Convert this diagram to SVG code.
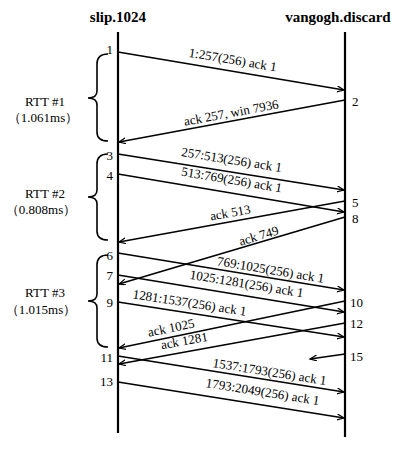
<svg xmlns="http://www.w3.org/2000/svg" width="418" height="449" viewBox="0 0 418 449" font-family="Liberation Serif, Times New Roman, serif">
<style>
text{font-family:"Liberation Serif","Times New Roman",serif;fill:#000}
.t{font-size:15px;font-weight:bold;text-anchor:middle}
.n{font-size:13px}
.l{font-size:13px;text-anchor:end}
.lab{font-size:13px;text-anchor:middle}
.rtt{font-size:13px;text-anchor:middle}
.life{stroke:#000;stroke-width:2.2;fill:none}
.msg{stroke:#000;stroke-width:1.6;fill:none;marker-end:url(#ah)}
.brace{stroke:#000;stroke-width:1.6;fill:none}
</style>
<defs>
<marker id="ah" markerUnits="userSpaceOnUse" markerWidth="10" markerHeight="10" refX="7" refY="3" orient="auto">
<path d="M0,0 L7,3 L0,6" fill="none" stroke="#000" stroke-width="1.2"/>
</marker>
</defs>
<rect width="418" height="449" fill="#fff"/>
<g id="slip">
<text class="t" x="118" y="22">slip.1024</text>
<line class="life" x1="118" y1="32" x2="118" y2="433"/>
</g>
<g id="vangogh">
<text class="t" x="338" y="22">vangogh.discard</text>
<line class="life" x1="345" y1="32" x2="345" y2="437"/>
</g>
<g id="rtt1">
<path class="brace" d="M108,54 Q97,54 97,64 L97,91 Q97,98 88,98 Q97,98 97,105 L97,132 Q97,141 108,141"/>
<text class="rtt" x="45" y="106">RTT #1</text>
<text class="rtt" x="43" y="122">（1.061ms）</text>
</g>
<g id="rtt2">
<path class="brace" d="M108,154 Q97,154 97,164 L97,190 Q97,197 88,197 Q97,197 97,204 L97,231 Q97,240 108,240"/>
<text class="rtt" x="45" y="198">RTT #2</text>
<text class="rtt" x="41" y="214">（0.808ms）</text>
</g>
<g id="rtt3">
<path class="brace" d="M108,255 Q97,255 97,265 L97,294 Q97,301 88,301 Q97,301 97,308 L97,338 Q97,347 108,347"/>
<text class="rtt" x="45" y="297">RTT #3</text>
<text class="rtt" x="41" y="314">（1.015ms）</text>
</g>
<g id="connectors">
<line class="msg" x1="118" y1="52" x2="344" y2="90"/>
<line class="msg" x1="345" y1="100" x2="119" y2="142"/>
<line class="msg" x1="118" y1="154" x2="344" y2="190"/>
<line class="msg" x1="118" y1="174" x2="344" y2="212"/>
<line class="msg" x1="345" y1="201" x2="119" y2="242"/>
<line class="msg" x1="345" y1="217" x2="119" y2="284"/>
<line class="msg" x1="118" y1="253" x2="344" y2="290"/>
<line class="msg" x1="118" y1="275" x2="344" y2="312"/>
<line class="msg" x1="118" y1="302" x2="344" y2="337"/>
<line class="msg" x1="345" y1="301" x2="119" y2="348"/>
<line class="msg" x1="345" y1="323" x2="119" y2="364"/>
<line class="msg" x1="345" y1="354" x2="310" y2="359"/>
<line class="msg" x1="118" y1="356" x2="344" y2="392"/>
<line class="msg" x1="118" y1="382" x2="344" y2="418"/>
</g>
<g id="labels">
<text class="lab" transform="translate(232,64) rotate(9.5)">1:257(256) ack 1</text>
<text class="lab" transform="translate(232,117) rotate(-10.5)">ack 257, win 7936</text>
<text class="lab" transform="translate(231,164) rotate(9)">257:513(256) ack 1</text>
<text class="lab" transform="translate(231,184) rotate(9.5)">513:769(256) ack 1</text>
<text class="lab" transform="translate(231,217) rotate(-10.2)">ack 513</text>
<text class="lab" transform="translate(260,240) rotate(-16.4)">ack 749</text>
<text class="lab" transform="translate(270,274) rotate(9.3)">769:1025(256) ack 1</text>
<text class="lab" transform="translate(246,288) rotate(9.3)">1025:1281(256) ack 1</text>
<text class="lab" transform="translate(189,307) rotate(8.8)">1281:1537(256) ack 1</text>
<text class="lab" transform="translate(172,332) rotate(-11.7)">ack 1025</text>
<text class="lab" transform="translate(185,345) rotate(-10.2)">ack 1281</text>
<text class="lab" transform="translate(269,376) rotate(9)">1537:1793(256) ack 1</text>
<text class="lab" transform="translate(262,396) rotate(9)">1793:2049(256) ack 1</text>
</g>
<g id="numbers">
<text class="l" x="113" y="54">1</text>
<text class="n" x="352" y="106">2</text>
<text class="l" x="113" y="160">3</text>
<text class="l" x="113" y="180">4</text>
<text class="n" x="352" y="207">5</text>
<text class="n" x="352" y="223">8</text>
<text class="l" x="113" y="260">6</text>
<text class="l" x="113" y="280">7</text>
<text class="l" x="113" y="307">9</text>
<text class="n" x="350" y="307">10</text>
<text class="n" x="350" y="328">12</text>
<text class="n" x="350" y="361">15</text>
<text class="l" x="113" y="362">11</text>
<text class="l" x="113" y="386">13</text>
</g>
</svg>
